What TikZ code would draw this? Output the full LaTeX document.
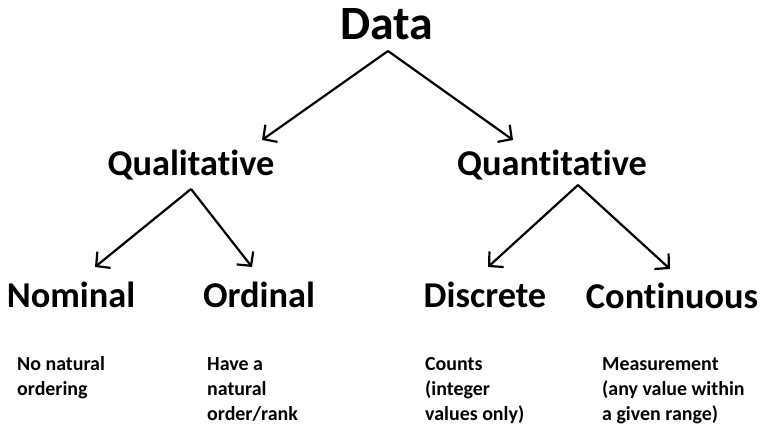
\documentclass[tikz,border=0pt]{standalone}
\usepackage{fontspec}
\setmainfont{Carlito}[Ligatures={NoCommon}]
\usepackage{tikz}
\usetikzlibrary{arrows.meta,positioning}
\tikzset{
  root/.style={inner sep=0pt, anchor=base, font=\bfseries\fontsize{48}{58}\selectfont},
  branch/.style={inner sep=0pt, anchor=base, font=\bfseries\fontsize{36.5}{44}\selectfont},
  leafbox/.style={branch},
  note/.style={inner sep=0pt, anchor=base west, align=left,
               font=\bfseries\fontsize{20}{25}\selectfont},
  arrow/.style={-{Straight Barb[length=10bp,width=21bp,line width=2.2bp]}, line width=2.2bp}
}

\begin{document}
\begin{tikzpicture}[x=1bp, y=-1bp]
  \useasboundingbox (0,0) rectangle (762,426);
  % level 0
  \node[root] (data) at (387,39) {Data};
  % level 1
  \node[branch] (qual) at (191,175) {Qualitative};
  \node[branch] (quant) at (552,175) {Quantitative};
  % level 2
  \node[leafbox] (nom) at (71,307) {Nominal};
  \node[leafbox] (ord) at (259,307) {Ordinal};
  \node[leafbox] (disc) at (485,307) {Discrete};
  \node[leafbox] (cont) at (672,308) {Continuous};
  % descriptions (placed by the baseline of their last line)
  \node[note] (nomtxt) at (17,395) {No natural\\ordering};
  \node[note] (ordtxt) at (207,420) {Have a\\natural\\order/rank};
  \node[note] (disctxt) at (425,420) {Counts\\(integer\\values only)};
  \node[note] (conttxt) at (602,420) {Measurement\\(any value within\\a given range)};
  % arrow ends
  \coordinate (data-root) at (388,51);
  \coordinate (qual-in) at (262,140);
  \coordinate (quant-in) at (513,140);
  \coordinate (qual-root) at (191,189);
  \coordinate (nom-in) at (95,267);
  \coordinate (ord-in) at (252,267);
  \coordinate (quant-root) at (578,185);
  \coordinate (disc-in) at (488,267);
  \coordinate (cont-in) at (670,269);
  \draw[arrow] (data-root) -- (qual-in);
  \draw[arrow] (data-root) -- (quant-in);
  \draw[arrow] (qual-root) -- (nom-in);
  \draw[arrow] (qual-root) -- (ord-in);
  \draw[arrow] (quant-root) -- (disc-in);
  \draw[arrow] (quant-root) -- (cont-in);
\end{tikzpicture}
\end{document}
